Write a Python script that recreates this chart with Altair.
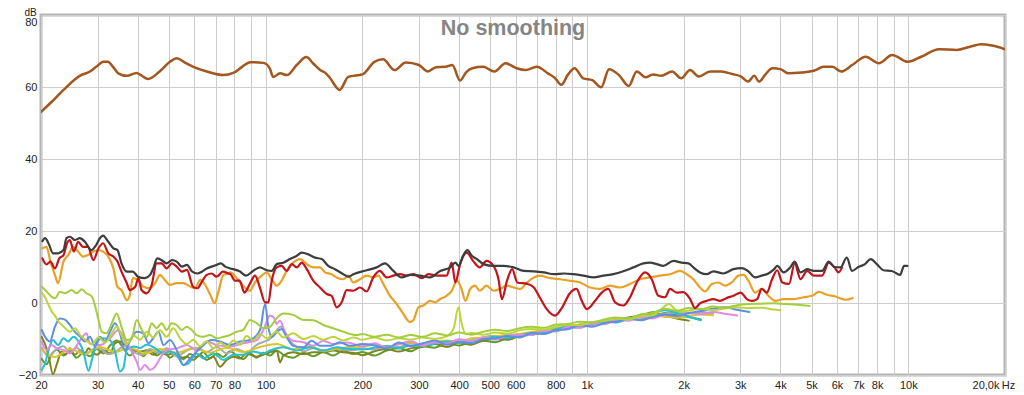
import altair as alt
import pandas as pd

TITLE = "No smoothing"

TICK_VALUES = [20, 30, 40, 50, 60, 70, 80, 90, 100, 200, 300, 400, 500, 600, 700, 800, 900,
               1000, 2000, 3000, 4000, 5000, 6000, 7000, 8000, 9000, 10000, 20000]
TICK_LABELS = ["20", "30", "40", "50", "60", "70", "80", "", "100", "200", "300", "400", "500",
               "600", "", "800", "", "1k", "2k", "3k", "4k", "5k", "6k", "7k", "8k", "", "10k", "20,0k"]
Y_TICKS = [-20, 0, 20, 40, 60, 80]

# ---------------- main curves ----------------
brown_f = [20, 21.6, 23.5, 26.4, 28.4, 29.7, 31.3, 32.3, 33.5, 34.8, 37.0, 39.7, 40.9, 43.1, 46.9,
           50.4, 52.9, 56.1, 59.6, 65.6, 73.9, 79.3, 84.5, 89.5, 98.4, 103, 105.6, 111, 116.4, 125,
           134, 140.4, 147.8, 154, 158.6, 170, 180.8, 201, 218, 232, 252, 273, 300, 320, 339, 363,
           381, 403, 420, 440, 476, 515, 558, 604, 645, 698, 756, 795, 832, 874, 915, 974, 1039,
           1107, 1172, 1258, 1349, 1429, 1523, 1605, 1702, 1842, 1964, 2094, 2231, 2416, 2615,
           2832, 3020, 3170, 3320, 3430, 3600, 3776, 4020, 4220, 4640, 5110, 5450, 5810, 6190,
           6690, 7370, 8100, 8910, 9970, 10970, 12460, 14160, 15570, 16860, 18230, 20000]
brown_db = [53.1, 55.9, 59.2, 63.1, 64.3, 65.6, 67.0, 67.0, 65.6, 63.8, 63.1, 63.9, 63.3, 62.2, 64.4,
            67.0, 68.0, 66.8, 65.6, 64.3, 63.3, 63.9, 65.6, 66.9, 66.7, 65.2, 62.8, 63.8, 63.3, 66.1,
            68.3, 66.6, 64.7, 63.8, 62.5, 59.2, 62.8, 63.6, 67.0, 67.7, 64.7, 66.8, 66.1, 64.3, 65.5, 65.6,
            66.1, 61.8, 64.0, 65.2, 65.6, 64.3, 66.6, 65.2, 64.7, 65.6, 63.8, 62.5, 60.6, 63.5, 65.2, 62.4, 61.9,
            59.9, 64.9, 63.3, 60.3, 64.3, 62.7, 63.5, 63.1, 64.3, 62.4, 64.7, 62.9, 64.3, 64.3,
            63.6, 62.9, 61.5, 63.1, 61.5, 63.6, 65.2, 64.9, 63.8, 64.0, 64.6, 65.6, 65.6, 64.3,
            66.1, 68.4, 66.6, 68.9, 67.0, 68.4, 70.5, 70.3, 71.2, 71.9, 71.5, 70.5]

dark_f = [20.2, 20.6, 21.1, 21.8, 22.6, 23.5, 24.0, 24.6, 25.5, 26.4, 27.4, 28.7, 29.7, 30.5, 31.2,
          32.4, 33.6, 34.6, 35.6, 37.0, 38.6, 40.1, 42.1, 43.7, 44.7, 46.0, 47.5, 49.2, 51.1, 52.9,
          54.9, 56.9, 59.1, 61.4, 63.3, 65.6, 67.9, 70.4, 72.5, 74.9, 77.7, 79.3, 83.0, 87.0, 91.4,
          96.0, 100.8, 104.5, 108.3, 113.5, 119.1, 125, 129.5, 135.8, 142.5, 149.5, 156.7, 164.4,
          174.6, 180.9, 187.5, 206.3, 221.6, 235.2, 249.9, 265.2, 281.3, 302.5, 325.1, 349.4, 375.5,
          389.5, 398.9, 411.5, 424.8, 438.5, 454.5, 476.5, 511.9, 550.3, 591.6, 635.9, 683.6, 734.8,
          789.9, 849.1, 907.5, 974.5, 1047, 1125, 1208, 1298, 1395, 1498, 1571, 1649, 1728, 1858,
          1973, 2068, 2144, 2249, 2360, 2474, 2657, 2855, 3031, 3180, 3336, 3500, 3670, 3824, 3915,
          4092, 4294, 4431, 4619, 4845, 5079, 5391, 5656, 5894, 6155, 6438, 6680, 6992, 7335, 7640,
          7984, 8367, 8886, 9430, 9704, 9936]
dark_db = [17.2, 18.0, 16.6, 13.8, 13.8, 14.7, 18.0, 18.4, 17.5, 18.0, 17.0, 14.7, 16.1, 18.0, 18.7,
           17.0, 15.2, 14.7, 11.0, 8.7, 8.7, 7.3, 6.9, 7.8, 9.6, 12.4, 11.9, 11.0, 11.9, 11.5,
           10.1, 10.6, 8.7, 8.2, 8.7, 9.6, 10.1, 10.6, 11.0, 10.1, 9.6, 9.4, 8.8, 7.6, 8.9,
           9.9, 9.1, 8.9, 10.8, 11.2, 12.2, 13.1, 14.0, 13.5, 12.6, 12.2, 10.3, 9.4,
           8.0, 7.3, 8.0, 9.1, 9.9, 11.0, 8.9, 7.1, 7.8, 7.6, 7.1, 8.9, 9.9,
           11.2, 10.3, 13.1, 14.7, 13.1, 12.2, 10.8, 10.3, 10.3, 9.9, 8.9, 8.8, 8.5,
           8.0, 8.2, 8.0, 7.6, 7.1, 7.6, 8.0, 8.8, 9.9, 11.0, 11.2, 10.8, 10.3, 11.7,
           11.2, 11.0, 9.9, 8.5, 8.0, 8.8, 8.2, 9.4, 9.7, 8.8, 7.1, 7.6, 8.2, 9.4, 10.3,
           8.5, 9.9, 11.5, 8.5, 9.4, 8.9, 8.9, 11.5, 10.0, 9.9, 12.6, 8.9, 10.0, 10.8, 12.2,
           10.8, 9.1, 8.9, 7.8, 10.3, 10.3]

red_f = [20.2, 20.8, 21.4, 22.1, 22.8, 23.5, 24.1, 24.6, 25.3, 26.1, 27.0, 28.0, 29.1, 30.2, 31.2,
         32.4, 33.6, 34.6, 35.6, 37.0, 37.8, 39.3, 40.2, 41.1, 42.6, 44.2, 45.8, 47.5, 49.2, 51.1,
         52.9, 54.9, 56.9, 59.5, 61.4, 63.3, 65.6, 67.9, 70.4, 73.6, 76.6, 77.7, 80.3, 83.0, 85.9,
         89.3, 92.7, 96.0, 99.6, 102, 104.5, 108.3, 112.2, 116.3, 120.6, 125, 129.5, 134.3, 140.7,
         147.7, 154.9, 160.5, 166.4, 172.5, 178.8, 187.5, 196.7, 206.3, 216.3, 226.8, 238.0, 249.9,
         262.0, 274.9, 288.3, 306.3, 321.4, 341.0, 365.6, 379.5, 389.5, 403.0, 422.7, 442.1, 463.9,
         486.8, 511.9, 530.5, 543.7, 564.1, 585.2, 607.1, 651.5, 683.6, 712.8, 749.7, 796.0, 837.7,
         881.7, 927.9, 963.4, 1000, 1060, 1112, 1166, 1223, 1298, 1362, 1429, 1516, 1591, 1668,
         1750, 1813, 1903, 1995, 2094, 2170, 2249, 2360, 2474, 2596, 2724, 2855, 3009, 3144, 3263,
         3385, 3500, 3631, 3768, 3909, 4055, 4256, 4431, 4619, 4845, 5079, 5391, 5656, 5894, 6070, 6222]
red_db = [12.4, 10.7, 11.5, 9.6, 12.4, 13.3, 16.6, 17.5, 14.3, 17.0, 15.6, 15.6, 11.9, 15.2, 16.6,
          13.8, 12.9, 11.5, 8.7, 5.5, 3.6, 4.5, 6.9, 3.6, 2.7, 5.0, 11.0, 11.0, 9.6, 11.0,
          10.1, 8.7, 9.2, 4.5, 4.1, 5.9, 7.8, 8.2, 7.3, 8.7, 8.2, 8.0, 6.2, 6.2, 2.9,
          5.3, 7.6, 4.3, 0.2, 0.2, 6.2, 9.9, 10.3, 8.9, 10.8, 9.9, 11.2, 9.4, 6.2,
          4.3, 2.5, 2.0, -1.2, 0.2, 3.6, 3.4, 4.3, 3.2, 7.1, 8.9, 7.1, 7.6,
          8.0, 7.6, 8.0, 6.9, 8.0, 7.6, 7.6, 11.2, 5.7, 10.8, 14.0, 11.7, 9.9,
          11.7, 10.3, 6.6, 1.1, 6.2, 9.4, 5.7, 5.3, 4.3, 1.6, -1.7, -3.5, -1.2,
          2.5, 3.9, 0.6, -1.7, 0.6, 2.9, 3.9, 0.2, -0.7, 1.6, 5.7, 8.5, 6.6, 2.0,
          1.6, 3.9, 2.9, 3.0, 1.1, -1.4, -0.1, 0.6, 1.1, 0.6, 1.4, 2.0, 2.9, 1.1, 0.6,
          1.1, 3.9, 2.9, 6.6, 9.1, 5.7, 5.3, 11.0, 6.6, 8.9, 7.6, 7.6, 11.2, 9.9, 8.5, 9.9]

orange_f = [20.2, 20.8, 21.4, 22.1, 22.6, 23.5, 24.3, 25.2, 26.1, 27.0, 28.0, 29.1, 30.2, 31.2, 32.4,
            33.6, 34.6, 35.6, 37.0, 37.8, 38.6, 40.1, 41.6, 43.7, 45.3, 46.9, 48.6, 50.4, 52.9, 55.5,
            58.4, 60.3, 62.6, 64.9, 67.3, 69.4, 71.3, 73.9, 76.6, 77.7, 81.0, 85.2, 89.3, 92.7, 97.2,
            100.8, 104.5, 108.3, 112.2, 116.3, 121.9, 128.0, 134.3, 140.7, 147.7, 153.1, 160.5, 166.4,
            174.6, 180.9, 187.5, 196.7, 206.3, 216.3, 224.3, 232.4, 243.9, 255.9, 268.2, 281.3, 288.3,
            298.8, 309.6, 325.1, 336.9, 349.4, 365.6, 379.5, 393.8, 405.8, 418.8, 433.3, 448.5, 463.9,
            486.8, 511.9, 536.3, 564.1, 591.6, 620.3, 650.5, 683.6, 712.8, 768.3, 827.8, 881.7, 951.8,
            1022, 1098, 1180, 1268, 1362, 1463, 1571, 1689, 1813, 1948, 2045, 2144, 2249, 2332, 2448,
            2564, 2691, 2823, 2960, 3071, 3180, 3336, 3500, 3670, 3852, 4092, 4399, 4728, 5022, 5268,
            5574, 5938, 6379, 6712]
orange_db = [15.2, 15.6, 11.5, 7.8, 5.5, 11.5, 13.3, 15.6, 14.3, 12.9, 13.3, 14.3, 14.7, 14.3, 12.9,
             9.6, 4.5, 3.6, 0.8, 2.2, 6.9, 6.4, 4.5, 4.1, 5.5, 7.8, 6.4, 5.0, 5.5, 5.5,
             4.5, 4.1, 6.4, 5.0, 2.2, -0.1, 3.1, 7.8, 8.2, 8.5, 7.1, 4.8, 3.4, 5.7, 7.6,
             8.5, 6.6, 4.8, 6.2, 8.9, 11.2, 12.2, 10.8, 9.9, 9.9, 8.5, 8.0, 7.1,
             6.6, 7.6, 5.7, 6.6, 7.6, 7.1, 7.6, 5.3, 2.0, -0.3, -3.0, -5.3, -4.8,
             -1.2, -0.7, 0.6, 0.2, 1.1, 2.0, 3.4, 6.2, 4.3, 0.6, 3.9, 4.8, 3.4,
             4.8, 3.4, 3.9, 4.8, 4.3, 3.9, 5.7, 7.1, 7.6, 6.9, 6.6, 6.2, 5.7,
             4.3, 3.9, 4.8, 4.3, 5.3, 6.6, 7.1, 7.6, 8.0, 8.9, 8.0, 6.6, 4.3, 3.2, 5.3,
             5.7, 4.8, 5.7, 7.6, 7.8, 6.2, 2.9, 3.9, 2.0, 0.6, 1.1, 1.1, 1.6, 2.0, 3.1,
             2.3, 1.8, 0.9, 1.4]

# ---------------- lower group of curves ----------------
GRID_HI = [200, 218, 238, 260, 283, 308, 336, 367, 400, 436, 476, 519, 566, 617, 673, 734, 800, 872,
           951, 1037, 1131, 1233, 1345, 1467, 1600, 1745, 1903, 2075, 2263, 2468, 2691, 2935, 3200,
           3490, 3806, 4150, 4525, 4935]

blue_lo_f = [20.1, 20.6, 21.3, 22.1, 22.9, 23.8, 24.6, 25.5, 26.5, 27.4, 28.4, 29.5, 30.5, 31.6, 32.8,
             34.0, 35.2, 36.5, 37.8, 39.7, 41.6, 43.2, 44.7, 46.4, 48.1, 50.4, 52.9, 55.5, 58.2, 61.0,
             64.0, 68.0, 72.1, 77.5, 83.3, 89.4, 96.1, 99.6, 102, 104.5, 108.3, 112.2, 116.3, 121.9,
             131, 139.1, 147.7, 158.6, 170.3, 182.9]
blue_lo_db = [-7.5, -9.4, -10.7, -6.6, -4.3, -4.7, -6.1, -8.0, -9.4, -10.7, -9.4, -12.1, -9.4, -10.7, -8.0,
              -5.6, -8.4, -13.1, -10.7, -8.0, -8.4, -11.2, -9.8, -8.0, -11.7, -10.3, -13.1, -17.2, -15.4, -13.5,
              -11.7, -10.3, -10.7, -11.7, -10.7, -10.3, -7.5, -0.3, -6.8, -9.5, -8.1, -7.2, -9.5, -11.9,
              -12.3, -10.5, -11.9, -11.9, -10.9, -11.9]
blue_hi_db = [-11.4, -11.8, -12.6, -11.0, -12.0, -11.2, -10.4, -11.6, -10.8, -11.2, -10.0, -9.8, -9.2,
              -9.6, -8.4, -8.6, -7.6, -7.2, -6.2, -6.6, -5.6, -5.2, -4.4, -4.8, -3.9, -3.2, -3.6, -2.8,
              -2.2, -1.6, -1.2, -1.9, -2.5]

pink_lo_f = [20.1, 20.8, 21.6, 22.4, 23.5, 24.6, 26.5, 27.7, 28.4, 30.5, 32.8, 34.8, 36.1, 37.8, 39.7,
             40.7, 42.1, 43.7, 45.3, 46.9, 49.2, 52.9, 56.8, 61.0, 65.6, 70.5, 77.5, 85.2, 93.8, 98.4,
             103.2, 106, 108.3, 110.9, 114.9, 121.9, 131, 140.8, 151.2, 162.4, 180]
pink_lo_db = [-10.7, -13.1, -11.7, -12.6, -13.1, -14.0, -10.3, -8.4, -11.2, -11.7, -9.8, -7.5, -9.4, -12.6,
              -16.3, -18.6, -17.2, -18.6, -17.7, -15.4, -13.1, -12.6, -11.7, -13.1, -10.7, -11.7, -12.1,
              -11.2, -10.3, -7.5, -3.5, -4.0, -5.8, -4.9, -8.1, -10.5, -10.9, -11.9, -10.5, -11.4, -11.0]
pink_hi_db = [-12.0, -11.2, -12.4, -11.4, -10.6, -11.8, -10.9, -11.3, -10.1, -10.6, -9.6, -10.2, -9.0,
              -8.8, -8.9, -7.7, -7.9, -6.7, -6.9, -5.7, -5.9, -4.7, -4.9, -3.9, -4.3, -3.3, -3.7, -2.7,
              -3.1, -2.5, -3.0, -3.5]

cyan_lo_f = [20.1, 20.6, 21.1, 21.8, 22.6, 23.5, 24.3, 25.2, 26.1, 27.1, 28.1, 28.8, 29.8, 31.3, 32.8,
             34.0, 35.2, 36.1, 37.0, 38.8, 40.7, 42.7, 45.3, 48.1, 50.4, 52.9, 55.5, 57.5, 61.0, 64.0,
             68.8, 73.9, 79.4, 85.2, 91.6, 98.4, 103.2, 113.5, 125, 137.5, 151.2, 166.4, 183.1]
cyan_lo_db = [-18.6, -16.8, -13.1, -10.3, -11.7, -9.8, -10.7, -9.4, -10.5, -13.5, -18.8, -15.8, -10.7,
              -9.8, -10.3, -13.5, -19.0, -18.0, -13.0, -12.1, -12.5, -11.5, -12.6, -14.0, -13.5, -14.4,
              -17.2, -16.8, -14.0, -15.4, -14.0, -15.8, -14.4, -14.4, -13.5, -14.0, -13.2, -12.3, -13.2,
              -12.3, -13.2, -12.3, -12.8]
cyan_hi_db = [-12.9, -12.4, -12.0, -12.6, -11.8, -11.9, -11.3, -10.7, -11.0, -10.4, -10.0, -9.4, -9.7,
              -9.0, -8.3, -8.2, -7.3, -6.6, -6.8, -5.8, -5.2, -5.4, -4.4, -3.8, -2.8, -2.0, -2.8, -3.8, -4.8]

olive_lo_f = [20.1, 20.6, 21.1, 21.8, 22.4, 23.2, 23.8, 24.6, 25.5, 26.5, 27.4, 28.1, 28.8, 29.8, 31.3,
              32.8, 34.0, 35.2, 37.0, 38.8, 40.7, 42.7, 44.7, 46.9, 49.2, 51.6, 54.2, 56.8, 59.6, 62.5,
              65.6, 68.8, 72.1, 75.7, 79.4, 83.3, 87.3, 93.8, 100.8, 108.3, 110.9, 113.5, 121.9, 131,
              140.8, 151.2, 162.4, 174.5, 192]
olive_lo_db = [-9.4, -11.5, -14.5, -19.8, -17.0, -13.5, -14.4, -12.6, -14.4, -13.1, -14.0, -12.6, -13.5,
               -14.4, -13.1, -14.0, -11.2, -10.7, -12.1, -13.1, -13.5, -13.1, -14.4, -13.5, -14.4, -14.0,
               -15.4, -14.9, -15.8, -14.4, -15.8, -14.9, -17.7, -15.8, -14.9, -15.4, -14.0, -14.9, -14.0,
               -13.2, -16.5, -14.6, -13.7, -14.2, -13.7, -13.7, -13.2, -13.7, -14.0]
olive_hi_db = [-14.5, -13.4, -12.8, -13.5, -12.6, -12.2, -11.4, -12.2, -11.0, -11.6, -10.4, -10.0, -10.2,
               -9.2, -8.8, -8.0, -7.6, -6.8, -6.0, -5.8, -5.0, -4.6, -4.0, -3.6, -2.6, -3.4, -4.3, -4.9]

gray_lo_f = [20.1, 21.1, 22.1, 23.5, 24.6, 25.8, 27.4, 28.8, 30.5, 32.4, 34.4, 36.5, 38.8, 41.2, 43.7,
             46.4, 49.2, 52.9, 56.8, 61.0, 65.6, 70.5, 75.7, 81.3, 87.3, 93.8, 98.4, 103.2, 108.3, 111.5,
             114.9, 119, 125, 131, 140.8, 151.2, 166.4, 183.1]
gray_lo_db = [-12.5, -14.8, -13.2, -12.0, -13.8, -12.4, -14.5, -13.0, -12.6, -14.2, -13.4, -11.8, -13.6,
              -14.4, -12.8, -13.9, -12.6, -14.8, -13.2, -12.4, -13.6, -12.2, -14.0, -12.8, -13.8, -11.6,
              -10.8, -10.0, -7.6, -6.5, -8.2, -10.5, -12.2, -13.4, -12.6, -13.4, -12.8, -13.2]
gray_hi_db = [-12.6, -12.9, -11.9, -12.2, -11.2, -11.6, -10.6, -11.0, -10.2, -10.7, -9.5, -9.1, -9.6,
              -8.6, -8.8, -7.8, -7.1, -7.3, -6.1, -6.2, -5.1, -4.8, -4.2, -4.5, -3.5, -3.0, -2.6, -2.9,
              -2.5, -3.0]

green_lo_f = [20.1, 20.8, 21.6, 22.4, 23.5, 24.6, 25.8, 27.1, 28.4, 29.8, 31.3, 32.8, 34.4, 36.1, 37.8,
              39.7, 41.6, 43.7, 45.8, 48.1, 50.4, 52.9, 55.5, 58.2, 61.0, 64.0, 67.1, 70.5, 73.9, 77.5,
              81.3, 85.2, 89.4, 93.8, 98.4, 103.2, 108.3, 113.5, 121.9, 131, 140.8, 151.2, 162.4,
              174.5, 187.5]
green_lo_db = [-15.5, -17.0, -14.2, -13.0, -14.6, -13.4, -15.2, -13.8, -14.8, -12.8, -14.0, -11.8, -10.4,
               -12.6, -14.6, -13.2, -14.8, -13.0, -14.6, -13.4, -15.2, -13.9, -15.6, -14.2, -15.0, -13.6,
               -15.4, -14.0, -15.0, -13.4, -14.6, -15.6, -14.0, -15.2, -13.8, -14.6, -13.2, -14.4, -15.2,
               -13.8, -14.8, -13.6, -14.6, -13.2, -14.2]
green_hi_db = [-13.6, -14.6, -13.2, -12.6, -13.4, -12.0, -12.4, -11.2, -11.8, -10.8, -10.5, -10.9, -9.7,
               -9.3, -8.4, -8.5, -7.4, -7.0, -6.5, -5.6, -5.6, -4.5, -4.3, -3.4, -3.6, -2.8, -3.4, -3.9, -4.6]

yellow_lo_f = [20.1, 22.1, 24.6, 27.4, 30.5, 34.0, 37.8, 42.1, 46.9, 52.9, 59.6, 67.1, 75.7, 85.2, 96.1,
               108.3, 121.9, 137.5, 151.2, 174.5]
yellow_lo_db = [-13.0, -15.0, -12.8, -14.2, -12.2, -13.6, -12.4, -14.0, -12.8, -13.8, -12.6, -13.8, -12.4,
                -13.6, -12.2, -11.4, -12.8, -12.0, -13.2, -12.4]
yellow_hi_db = [-12.2, -11.6, -12.5, -11.4, -11.0, -11.9, -10.8, -10.4, -10.9, -9.8, -9.6, -9.2, -8.8,
                -8.6, -8.0, -7.6, -7.0, -6.4, -6.3, -5.4, -5.0, -4.4, -4.6, -3.9, -3.4, -3.8, -4.1, -3.6,
                -3.2, -3.4]

lime1_lo_f = [20.1, 20.6, 21.3, 22.1, 22.9, 23.8, 24.9, 25.8, 26.8, 27.7, 28.8, 29.5, 30.2, 30.9, 32.0,
              33.2, 34.4, 35.7, 37.0, 38.3, 39.7, 41.2, 42.7, 44.2, 45.8, 47.5, 49.2, 51.0, 52.9, 54.8,
              56.8, 58.9, 61.0, 64.0, 67.1, 70.5, 73.9, 77.5, 81.3, 85.2, 89.4, 93.8, 98.4, 103.2,
              108.3, 113.5, 121.9, 131, 140.8, 151.2, 162.4, 174.5, 192]
lime1_lo_db = [4.5, 3.6, 2.2, 1.3, 3.1, 2.7, 3.6, 2.7, 3.8, 2.7, 1.8, -1.0, -4.7, -8.0, -8.4, -5.6, -2.9,
               -7.0, -10.3, -9.8, -4.7, -7.5, -9.4, -5.6, -7.0, -5.6, -7.5, -5.6, -6.1, -7.5, -6.6, -7.5,
               -8.9, -9.4, -8.9, -9.8, -9.4, -8.9, -8.0, -7.5, -4.7, -5.6, -7.0, -6.6, -4.2, -2.9, -3.3,
               -4.7, -4.8, -6.1, -7.0, -8.0, -8.9]
lime1_hi_db = [-8.6, -9.4, -8.8, -9.6, -8.9, -9.4, -8.4, -9.0, -8.2, -8.8, -8.0, -7.4, -7.8, -7.0, -6.6,
               -6.9, -6.0, -5.8, -5.2, -5.4, -4.6, -4.0, -4.3, -3.2, -2.8, -1.6, -2.2, -1.4, -1.7, -1.0,
               -1.3, -0.6, -0.3, -0.2, -0.1, -0.3, -0.5, -0.8]

lime2_f = [20.1, 20.6, 21.1, 21.6, 22.1, 22.6, 23.5, 24.6, 25.5, 26.5, 27.7, 28.8, 30.2, 31.6, 33.2,
           34.4, 35.7, 37.0, 38.8, 40.7, 42.7, 44.7, 46.9, 49.2, 51.6, 54.2, 56.8, 59.6, 62.5, 65.6,
           68.8, 72.1, 75.7, 79.4, 83.3, 87.3, 91.6, 96.1, 100.8, 108.3, 113.5, 121.9, 131, 140.8,
           151.2, 162.4, 174.5, 187.5, 200, 218, 238, 260, 283, 308, 336, 367, 385, 398, 408, 420,
           436, 476, 519, 566, 617, 673, 734, 800, 872, 951, 1037, 1131, 1233, 1345, 1467, 1600, 1700,
           1800, 1870, 1950, 2075, 2263, 2468, 2691, 2935, 3200, 3490, 3806, 4000]
lime2_db = [2.9, 1.5, -0.5, -2.4, -3.5, -5.0, -6.5, -8.0, -7.0, -9.0, -10.5, -11.5, -9.5, -11.0, -8.5,
            -6.5, -9.2, -11.5, -9.0, -10.2, -8.0, -9.6, -7.6, -9.4, -7.0, -9.8, -11.4, -10.2, -12.0, -10.6,
            -12.6, -11.0, -12.2, -10.4, -11.6, -9.2, -10.4, -8.6, -9.8, -8.0, -9.6, -8.4, -10.0, -9.2,
            -10.2, -9.4, -10.4, -9.6, -10.2, -9.6, -10.4, -9.8, -10.2, -9.6, -10.0, -9.2, -7.0, -1.2, -6.0,
            -8.6, -8.3, -8.8, -8.2, -8.5, -7.6, -7.2, -7.4, -6.5, -6.0, -6.2, -5.3, -5.0, -4.3, -4.6, -3.7,
            -3.4, -1.8, -0.2, -1.6, -2.4, -2.1, -1.6, -2.0, -1.5, -1.2, -1.4, -1.3, -1.8, -2.0]


def joined(lo_f, lo_db, hi_db):
    return lo_f + GRID_HI[:len(hi_db)], lo_db + hi_db


SERIES = [
    ("green", "#5e9c2c", *joined(green_lo_f, green_lo_db, green_hi_db), 2.0),
    ("olive", "#7e8519", *joined(olive_lo_f, olive_lo_db, olive_hi_db), 2.0),
    ("gray", "#a9a9a9", *joined(gray_lo_f, gray_lo_db, gray_hi_db), 2.0),
    ("yellow", "#d8c52a", *joined(yellow_lo_f, yellow_lo_db, yellow_hi_db), 2.0),
    ("cyan", "#22c0d0", *joined(cyan_lo_f, cyan_lo_db, cyan_hi_db), 2.0),
    ("pink", "#e189e6", *joined(pink_lo_f, pink_lo_db, pink_hi_db), 2.0),
    ("blue", "#5d8fe3", *joined(blue_lo_f, blue_lo_db, blue_hi_db), 2.0),
    ("lime2", "#bcd53a", lime2_f, lime2_db, 2.0),
    ("lime1", "#a3cd3b", *joined(lime1_lo_f, lime1_lo_db, lime1_hi_db), 2.0),
    ("orange", "#e9a125", orange_f, orange_db, 2.2),
    ("red", "#c3141c", red_f, red_db, 2.2),
    ("dark", "#3d3d3d", dark_f, dark_db, 2.2),
    ("brown", "#a4561f", brown_f, brown_db, 2.5),
]

FONT = "Liberation Sans"
label_expr = " : ".join(f"datum.value == {v} ? '{l}'" for v, l in zip(TICK_VALUES, TICK_LABELS)) + " : ''"

x_axis = alt.Axis(
    values=TICK_VALUES, labelExpr=label_expr, grid=True, gridColor="#cdcdcd", gridWidth=1,
    ticks=False, tickSize=0, domain=False, labelFont=FONT, labelFontSize=11, labelColor="#222222",
    labelPadding=4, labelFlush=False, labelOverlap=False, labelBound=False,
    labelAlign={"condition": {"test": "datum.value == 20000", "value": "right"}, "value": "center"},
    labelOffset={"condition": {"test": "datum.value == 20000", "value": -6}, "value": 0},
    title="Hz", titleX=967, titleY=4, titleAlign="center", titleBaseline="top", titleFont=FONT,
    titleFontSize=11, titleFontWeight="normal", titleColor="#222222",
)
y_axis = alt.Axis(
    values=Y_TICKS, grid=True, gridColor="#cdcdcd", gridWidth=1, ticks=False, tickSize=0,
    domain=False, labelFont=FONT, labelFontSize=11, labelColor="#222222", labelPadding=4,
    labelOverlap=False, labelBound=False, labelFlush=False,
    labelOffset={"condition": {"test": "datum.value == 80", "value": 7}, "value": 0},
    title="dB", titleAngle=0, titleX=-11, titleY=0, titleAlign="center", titleBaseline="alphabetic",
    titleFont=FONT, titleFontSize=10, titleFontWeight="normal", titleColor="#222222",
)

x_enc = alt.X("f:Q", scale=alt.Scale(type="log", domain=[20, 20000], nice=False), axis=x_axis)
y_enc = alt.Y("db:Q", scale=alt.Scale(domain=[-20, 80], nice=False), axis=y_axis)

layers = []
for name, color, fs, dbs, w in SERIES:
    df = pd.DataFrame({"f": fs[:len(dbs)], "db": dbs[:len(fs)]})
    layers.append(
        alt.Chart(df).mark_line(color=color, strokeWidth=w, strokeJoin="round", strokeCap="round",
                                interpolate="monotone", clip=True).encode(x=x_enc, y=y_enc)
    )

title_layer = alt.Chart(pd.DataFrame({"t": [TITLE]})).mark_text(
    font=FONT, fontSize=21.5, fontWeight="bold", color="#858585", align="center", baseline="alphabetic"
).encode(text="t:N", x=alt.value(472), y=alt.value(19.5))

chart = alt.layer(*layers, title_layer).properties(
    width=964, height=360,
    padding={"left": 33, "top": 7, "right": 11, "bottom": 16},
    autosize=alt.AutoSizeParams(type="none"),
).configure_view(stroke="#b4b4b4", strokeWidth=3)

chart.save("out.html", embed_options={"renderer": "svg", "actions": False})
